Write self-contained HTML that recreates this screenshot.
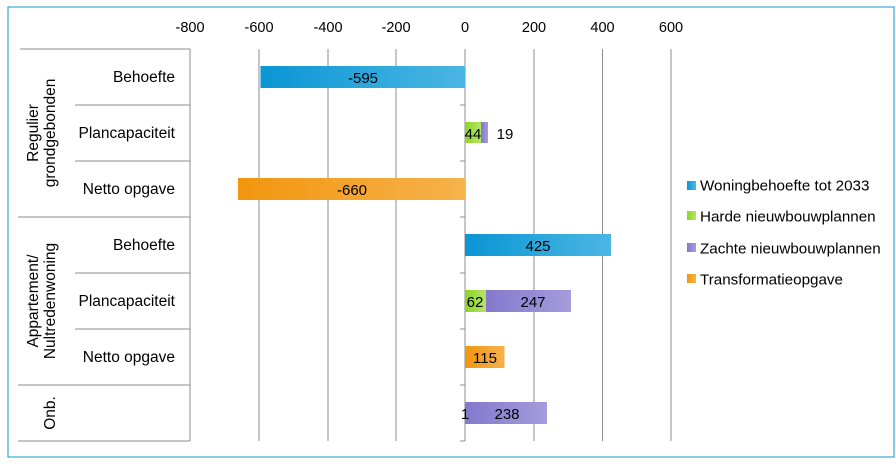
<!DOCTYPE html>
<html><head><meta charset="utf-8"><style>
html,body{margin:0;padding:0;background:#fff;}
svg{display:block;font-family:"Liberation Sans",sans-serif;}
</style></head><body>
<svg width="896" height="464" viewBox="0 0 896 464" xmlns="http://www.w3.org/2000/svg">
<defs>
<linearGradient id="gb" x1="0" x2="1"><stop offset="0" stop-color="#0a96d4"/><stop offset="1" stop-color="#4bb6e4"/></linearGradient>
<linearGradient id="gg" x1="0" x2="1"><stop offset="0" stop-color="#8cd424"/><stop offset="1" stop-color="#b4e46c"/></linearGradient>
<linearGradient id="gp" x1="0" x2="1"><stop offset="0" stop-color="#8478cc"/><stop offset="1" stop-color="#a59cdc"/></linearGradient>
<linearGradient id="go" x1="0" x2="1"><stop offset="0" stop-color="#f2960e"/><stop offset="1" stop-color="#f6b24c"/></linearGradient>
</defs>
<rect x="8" y="7" width="886" height="450" fill="#fff" stroke="#3aa6dc" stroke-width="1.2"/>
<g stroke="#8c8c8c" stroke-width="1">
<line x1="190" y1="49" x2="190" y2="441"/>
<line x1="259" y1="49" x2="259" y2="441"/>
<line x1="328" y1="49" x2="328" y2="441"/>
<line x1="396" y1="49" x2="396" y2="441"/>
<line x1="465" y1="49" x2="465" y2="441"/>
<line x1="534" y1="49" x2="534" y2="441"/>
<line x1="602.5" y1="49" x2="602.5" y2="441"/>
<line x1="671" y1="49" x2="671" y2="441"/>
<line x1="20" y1="49" x2="190" y2="49"/>
<line x1="75" y1="105" x2="190" y2="105"/>
<line x1="75" y1="161" x2="190" y2="161"/>
<line x1="18" y1="217" x2="190" y2="217"/>
<line x1="75" y1="273" x2="190" y2="273"/>
<line x1="75" y1="329" x2="190" y2="329"/>
<line x1="18" y1="385" x2="190" y2="385"/>
<line x1="18" y1="441" x2="190" y2="441"/>
<g><line x1="460" y1="105" x2="465" y2="105"/><line x1="460" y1="161" x2="465" y2="161"/><line x1="460" y1="217" x2="465" y2="217"/><line x1="460" y1="273" x2="465" y2="273"/><line x1="460" y1="329" x2="465" y2="329"/><line x1="460" y1="385" x2="465" y2="385"/><line x1="460" y1="441" x2="465" y2="441"/></g>
</g>
<g font-size="14.5" fill="#000" text-anchor="middle">
<text x="190" y="32">-800</text><text x="259" y="32">-600</text><text x="328" y="32">-400</text><text x="396" y="32">-200</text><text x="465" y="32">0</text><text x="534" y="32">200</text><text x="602.5" y="32">400</text><text x="671" y="32">600</text>
</g>
<g font-size="15.5" fill="#000" text-anchor="end">
<text x="175" y="82">Behoefte</text><text x="175" y="138">Plancapaciteit</text><text x="175" y="194">Netto opgave</text>
<text x="175" y="250">Behoefte</text><text x="175" y="306">Plancapaciteit</text><text x="175" y="362">Netto opgave</text>
</g>
<g font-size="15.5" fill="#000" text-anchor="middle">
<text transform="translate(38,133) rotate(-90)">Regulier</text>
<text transform="translate(55,133) rotate(-90)">grondgebonden</text>
<text transform="translate(38,301) rotate(-90)">Appartement/</text>
<text transform="translate(55,301) rotate(-90)">Nultredenwoning</text>
<text transform="translate(55,413) rotate(-90)">Onb.</text>
</g>
<rect x="260.5" y="66" width="204.5" height="22" fill="url(#gb)"/>
<rect x="465" y="122" width="16" height="21" fill="url(#gg)"/>
<rect x="481" y="122" width="7" height="21" fill="url(#gp)"/>
<rect x="238" y="178" width="227" height="22" fill="url(#go)"/>
<rect x="465" y="234" width="146" height="22" fill="url(#gb)"/>
<rect x="465" y="290" width="21" height="22" fill="url(#gg)"/>
<rect x="486" y="290" width="85" height="22" fill="url(#gp)"/>
<rect x="465" y="346" width="39.5" height="22" fill="url(#go)"/>
<rect x="465" y="402" width="82" height="22" fill="url(#gp)"/>
<g font-size="15" fill="#000" text-anchor="middle">
<text x="363" y="83">-595</text>
<text x="473" y="139">44</text><text x="505" y="139">19</text>
<text x="352" y="195">-660</text>
<text x="538" y="251">425</text>
<text x="475" y="307">62</text><text x="533" y="307">247</text>
<text x="485" y="363">115</text>
<text x="465" y="419">1</text><text x="507" y="419">238</text>
</g>
<rect x="687" y="181" width="9" height="9" fill="url(#gb)"/>
<rect x="687" y="211" width="9" height="9" fill="url(#gg)"/>
<rect x="687" y="243" width="9" height="9" fill="url(#gp)"/>
<rect x="687" y="274" width="9" height="9" fill="url(#go)"/>
<g font-size="15.2" fill="#000">
<text x="700" y="190.5">Woningbehoefte tot 2033</text>
<text x="700" y="221.5">Harde nieuwbouwplannen</text>
<text x="700" y="253.5">Zachte nieuwbouwplannen</text>
<text x="700" y="284.5">Transformatieopgave</text>
</g>
</svg>
</body></html>
